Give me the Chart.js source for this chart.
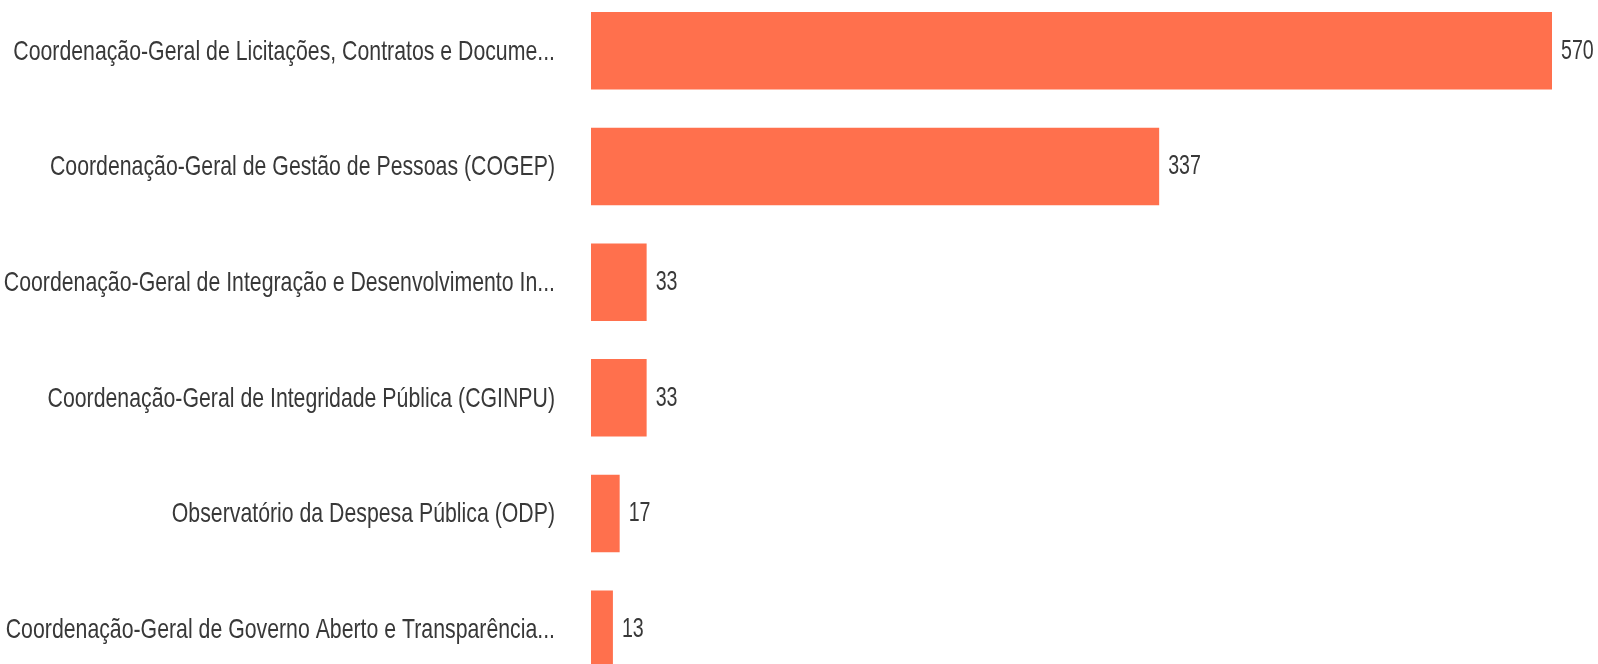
<!DOCTYPE html>
<html>
<head>
<meta charset="utf-8">
<script src="https://cdn.jsdelivr.net/npm/chart.js@4"></script>
<style>
  html, body { margin: 0; padding: 0; overflow: hidden; background: #fff; }
  #bar-chart { position: absolute; left: 0; top: -7px; }
</style>
</head>
<body>
<canvas id="bar-chart" width="1598" height="694"></canvas>
<script>
// categories and values
var categories = [
  "Coordenação-Geral de Licitações, Contratos e Docume...",
  "Coordenação-Geral de Gestão de Pessoas (COGEP)",
  "Coordenação-Geral de Integração e Desenvolvimento In...",
  "Coordenação-Geral de Integridade Pública (CGINPU)",
  "Observatório da Despesa Pública (ODP)",
  "Coordenação-Geral de Governo Aberto e Transparência..."
];
var values = [570, 337, 33, 33, 17, 13];

var font = "28px 'Liberation Sans', Arial, sans-serif";

// the reference uses a tall narrow face, so squeeze the text sideways
function narrowText(ctx, text, x, y, sx) {
  ctx.save();
  ctx.translate(x, y);
  ctx.scale(sx, 1);
  ctx.fillText(text, 0, 0);
  ctx.restore();
}

// category labels on the left and the number right of each bar
var textLayer = {
  id: 'textLayer',
  afterDatasetsDraw: function(chart) {
    var ctx = chart.ctx;
    var yScale = chart.scales.y;
    var meta = chart.getDatasetMeta(0);
    ctx.save();
    ctx.font = font;
    ctx.fillStyle = "#383838";
    ctx.textBaseline = "middle";
    ctx.textAlign = "right";
    categories.forEach(function(label, i) {
      narrowText(ctx, label, chart.chartArea.left - 36, yScale.getPixelForTick(i) + 1, 0.76);
    });
    ctx.textAlign = "left";
    meta.data.forEach(function(bar, i) {
      narrowText(ctx, values[i], bar.x + 9, bar.y, 0.7);
    });
    ctx.restore();
  }
};

new Chart(document.getElementById("bar-chart"), {
  type: 'bar',
  data: {
    labels: categories,
    datasets: [{
      data: values,
      backgroundColor: "#ff704d",
      borderWidth: 0,
      categoryPercentage: 1,
      barPercentage: 0.67
    }]
  },
  options: {
    indexAxis: 'y',
    responsive: false,
    animation: false,
    layout: { padding: { left: 0, right: 46, top: 0, bottom: 0 } },
    plugins: {
      legend: { display: false },
      tooltip: { enabled: false }
    },
    scales: {
      x: {
        display: false,
        min: 0,
        max: 570
      },
      y: {
        grid: { display: false, drawTicks: false },
        border: { display: false },
        ticks: { display: false },
        afterFit: function(scale) { scale.width = 591; }
      }
    }
  },
  plugins: [textLayer]
});
</script>
</body>
</html>
